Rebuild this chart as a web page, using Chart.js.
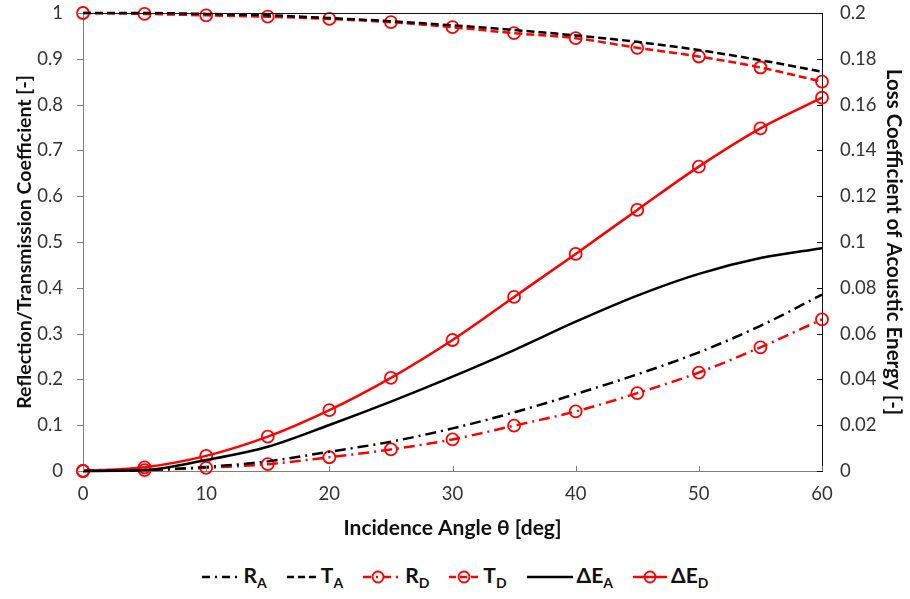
<!DOCTYPE html>
<html>
<head>
<meta charset="utf-8">
<script src="https://cdn.jsdelivr.net/npm/chart.js@4/dist/chart.umd.min.js"></script>
<style>
  body { margin: 0; background: #fff; font-family: Lato, sans-serif; }
  #wrap { position: relative; width: 910px; height: 599px; }
  #chart { position: absolute; left: 0; top: 0; }
  #legend { position: absolute; left: 0; top: 562px; width: 910px; display: flex; justify-content: center; align-items: center; gap: 20px; font-weight: bold; font-size: 21px; color: #111; }
  #legend .item { display: flex; align-items: center; gap: 4px; }
  #legend sub { font-size: 14px; vertical-align: -5px; }
</style>
</head>
<body>
<div id="wrap">
  <canvas id="chart" width="910" height="545"></canvas>
  <div id="legend"></div>
</div>
<script>
// incidence angle, deg
const angles = [0, 5, 10, 15, 20, 25, 30, 35, 40, 45, 50, 55, 60];

// reflection / transmission coefficients (left axis)
const rA = [0, 0.002, 0.009, 0.021, 0.042, 0.064, 0.093, 0.128, 0.168, 0.211, 0.259, 0.317, 0.385];
const tA = [1, 1.0, 0.998, 0.995, 0.989, 0.982, 0.973, 0.963, 0.951, 0.937, 0.919, 0.897, 0.872];
const rD = [0, 0.002, 0.007, 0.015, 0.030, 0.047, 0.069, 0.099, 0.130, 0.170, 0.215, 0.270, 0.331];
const tD = [1, 0.998, 0.995, 0.992, 0.987, 0.980, 0.969, 0.956, 0.945, 0.924, 0.905, 0.881, 0.850];

// loss coefficient of acoustic energy (right axis)
const dEA = [0, 0.0004, 0.0048, 0.0106, 0.0201, 0.0303, 0.0412, 0.0528, 0.0652, 0.0766, 0.0861, 0.0930, 0.0973];
const dED = [0, 0.0016, 0.0066, 0.0150, 0.0266, 0.0407, 0.0572, 0.0760, 0.0948, 0.1140, 0.1329, 0.1496, 0.1630];

const leftTicks = { min: 0, max: 1, step: 0.1 };
const rightTicks = { min: 0, max: 0.2, step: 0.02 };

const RED = 'rgb(255, 0, 0)';
const BLACK = 'rgb(0, 0, 0)';
const DASH = [8, 4];
const DASHDOT = [11, 5, 2, 5];

function pts(ys) {
	return angles.map((a, i) => ({ x: a, y: ys[i] }));
}

function series(label, ys, color, dash, markers, axis) {
	return {
		label: label,
		data: pts(ys),
		yAxisID: axis,
		borderColor: color,
		borderWidth: 2.5,
		borderDash: dash,
		cubicInterpolationMode: 'monotone',
		fill: false,
		clip: false,
		pointRadius: markers ? 6 : 0,
		pointBorderColor: RED,
		pointBackgroundColor: 'rgba(255,255,255,0)',
		pointBorderWidth: 1.8,
	};
}

// tick marks: left outward, bottom and right inward, plus top frame line
const tickMarks = {
	id: 'tickMarks',
	afterDraw(chart) {
		const { ctx, chartArea: a, scales } = chart;
		ctx.save();
		ctx.lineWidth = 1;
		ctx.strokeStyle = '#7f7f7f';
		scales.y.ticks.forEach(t => {
			const p = Math.round(scales.y.getPixelForValue(t.value)) + 0.5;
			ctx.beginPath(); ctx.moveTo(a.left - 6, p); ctx.lineTo(a.left, p); ctx.stroke();
		});
		scales.x.ticks.forEach(t => {
			const p = Math.round(scales.x.getPixelForValue(t.value)) + 0.5;
			ctx.beginPath(); ctx.moveTo(p, a.bottom); ctx.lineTo(p, a.bottom - 5); ctx.stroke();
		});
		ctx.strokeStyle = '#111';
		scales.y2.ticks.forEach(t => {
			const p = Math.round(scales.y2.getPixelForValue(t.value)) + 0.5;
			ctx.beginPath(); ctx.moveTo(a.right, p); ctx.lineTo(a.right - 5, p); ctx.stroke();
		});
		const top = Math.round(a.top) + 0.5;
		ctx.beginPath(); ctx.moveTo(a.left, top); ctx.lineTo(a.right, top); ctx.stroke();
		ctx.restore();
	}
};

const fmt = v => String(+v.toFixed(2));
const tickFont = { family: 'Lato', size: 18.5 };

function fitY(width) {
	return s => { s.width = width; s.paddingTop = 0; s.paddingBottom = 0; };
}

new Chart(document.getElementById('chart').getContext('2d'), {
	type: 'line',
	data: {
		datasets: [
			series('RA', rA, BLACK, DASHDOT, false, 'y'),
			series('TA', tA, BLACK, DASH, false, 'y'),
			series('ΔEA', dEA, BLACK, [], false, 'y2'),
			series('RD', rD, RED, DASHDOT, true, 'y'),
			series('TD', tD, RED, DASH, true, 'y'),
			series('ΔED', dED, RED, [], true, 'y2'),
		]
	},
	options: {
		responsive: false,
		animation: false,
		layout: { padding: { top: 13, left: 0, right: 0, bottom: 0 } },
		plugins: { legend: { display: false }, tooltip: { enabled: false } },
		scales: {
			x: {
				type: 'linear',
				min: 0, max: 60,
				ticks: { stepSize: 10, font: tickFont, color: '#333', padding: 12 },
				grid: { display: true, drawOnChartArea: false, drawTicks: false },
				border: { color: '#7f7f7f', width: 1 },
				title: { display: true, text: 'Incidence Angle θ [deg]', font: { family: 'Lato', size: 21, weight: 'bold' }, color: '#111', padding: { top: 6 } },
				afterFit: s => { s.height = 74; s.paddingLeft = 0; s.paddingRight = 0; },
			},
			y: {
				position: 'left',
				min: leftTicks.min, max: leftTicks.max,
				ticks: { stepSize: leftTicks.step, font: tickFont, color: '#333', padding: 20, callback: fmt },
				grid: { display: true, drawOnChartArea: false, drawTicks: false },
				border: { color: '#7f7f7f', width: 1 },
				title: { display: true, text: 'Reflection/Transmission Coefficient [-]', font: { family: 'Lato', size: 19.5, weight: 'bold' }, color: '#111', padding: { top: 13 } },
				afterFit: fitY(83),
			},
			y2: {
				position: 'right',
				min: rightTicks.min, max: rightTicks.max,
				ticks: { stepSize: rightTicks.step, font: tickFont, color: '#333', padding: 18, callback: fmt },
				grid: { display: true, drawOnChartArea: false, drawTicks: false },
				border: { color: '#111', width: 1 },
				title: { display: true, text: 'Loss Coefficient of Acoustic Energy [-]', font: { family: 'Lato', size: 20.5, weight: 'bold' }, color: '#111', padding: { top: 4 } },
				afterFit: fitY(88),
			},
		}
	},
	plugins: [tickMarks]
});

// legend with subscripts
const legendItems = [
	{ name: 'R', sub: 'A', color: '#000', dash: '8,5,2,5', w: 38, marker: false },
	{ name: 'T', sub: 'A', color: '#000', dash: '7,4', w: 30, marker: false },
	{ name: 'R', sub: 'D', color: '#f00', dash: '8,5,2,5', w: 38, marker: true },
	{ name: 'T', sub: 'D', color: '#f00', dash: '7,4', w: 30, marker: true },
	{ name: 'ΔE', sub: 'A', color: '#000', dash: '', w: 46, marker: false },
	{ name: 'ΔE', sub: 'D', color: '#f00', dash: '', w: 34, marker: true },
];
const legend = document.getElementById('legend');
legendItems.forEach(it => {
	const cx = it.dash === '8,5,2,5' ? 15 : it.w / 2;
	const circle = it.marker ? `<circle cx="${cx}" cy="10" r="5.5" fill="none" stroke="#f00" stroke-width="1.8"/>` : '';
	legend.insertAdjacentHTML('beforeend',
		`<span class="item"><svg width="${it.w}" height="20"><line x1="0" y1="10" x2="${it.w}" y2="10" stroke="${it.color}" stroke-width="2.5" stroke-dasharray="${it.dash}"/>${circle}</svg><span>${it.name}<sub>${it.sub}</sub></span></span>`);
});
</script>
</body>
</html>
